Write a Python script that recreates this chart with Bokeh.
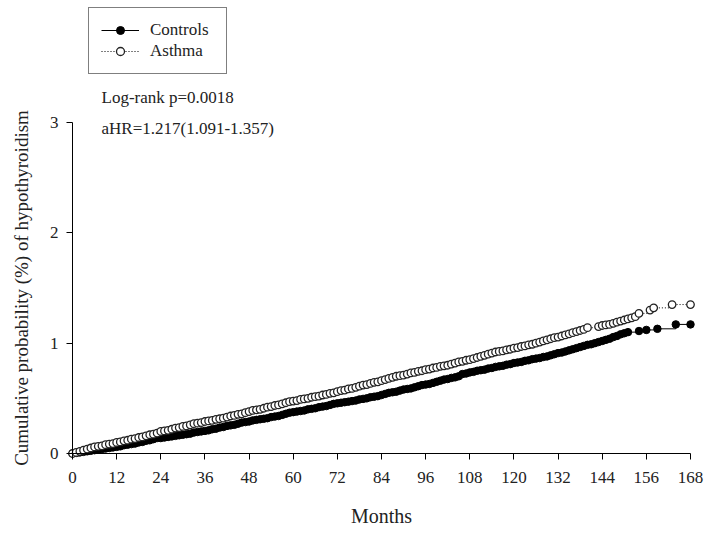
from bokeh.plotting import figure
from bokeh.models import (Range1d, FixedTicker, Legend, LegendItem, Label, ColumnDataSource)
from bokeh.embed import file_html
from bokeh.resources import INLINE

# ---- data ----
x_ticks = [0, 12, 24, 36, 48, 60, 72, 84, 96, 108, 120, 132, 144, 156, 168]
y_ticks = [0, 1, 2, 3]

asthma_months = list(range(0, 141)) + [143, 144, 145, 146, 147, 148, 149, 150, 151, 152, 153, 154,
                                       157, 158, 163, 168]
asthma_vals = [
    0.00, 0.01, 0.02, 0.03, 0.04, 0.05, 0.06, 0.065, 0.07, 0.08,
    0.085, 0.09, 0.10, 0.105, 0.115, 0.12, 0.13, 0.135, 0.145, 0.15,
    0.16, 0.17, 0.175, 0.185, 0.20, 0.205, 0.21, 0.22, 0.23, 0.235,
    0.245, 0.25, 0.26, 0.27, 0.275, 0.28, 0.29, 0.295, 0.30, 0.31,
    0.315, 0.32, 0.33, 0.34, 0.345, 0.355, 0.36, 0.37, 0.38, 0.39,
    0.395, 0.40, 0.41, 0.42, 0.425, 0.435, 0.44, 0.45, 0.46, 0.47,
    0.475, 0.48, 0.49, 0.495, 0.50, 0.51, 0.515, 0.52, 0.53, 0.535,
    0.545, 0.55, 0.56, 0.57, 0.575, 0.585, 0.59, 0.60, 0.61, 0.62,
    0.625, 0.635, 0.645, 0.65, 0.66, 0.67, 0.68, 0.69, 0.70, 0.705,
    0.71, 0.72, 0.73, 0.735, 0.745, 0.75, 0.76, 0.765, 0.775, 0.78,
    0.79, 0.795, 0.80, 0.81, 0.82, 0.83, 0.835, 0.845, 0.85, 0.86,
    0.87, 0.88, 0.89, 0.90, 0.91, 0.92, 0.925, 0.93, 0.94, 0.945,
    0.955, 0.96, 0.97, 0.975, 0.985, 0.99, 1.00, 1.01, 1.02, 1.03,
    1.04, 1.05, 1.055, 1.065, 1.075, 1.085, 1.095, 1.105, 1.115, 1.125, 1.14,
    1.15, 1.16, 1.165, 1.17, 1.18, 1.19, 1.20, 1.21, 1.22, 1.23, 1.24, 1.27,
    1.30, 1.32, 1.35, 1.35,
]

controls_months = list(range(0, 152)) + [154, 156, 159, 164, 168]
controls_vals = [
    0.00, 0.005, 0.01, 0.015, 0.02, 0.025, 0.03, 0.035, 0.04, 0.045,
    0.05, 0.055, 0.06, 0.065, 0.075, 0.08, 0.085, 0.09, 0.10, 0.105,
    0.115, 0.12, 0.13, 0.14, 0.14, 0.145, 0.15, 0.155, 0.16, 0.165,
    0.17, 0.175, 0.18, 0.19, 0.195, 0.20, 0.205, 0.21, 0.22, 0.225,
    0.235, 0.24, 0.25, 0.255, 0.26, 0.27, 0.28, 0.285, 0.29, 0.30,
    0.305, 0.31, 0.315, 0.32, 0.33, 0.335, 0.34, 0.35, 0.36, 0.37,
    0.375, 0.38, 0.385, 0.39, 0.40, 0.405, 0.41, 0.42, 0.425, 0.43,
    0.44, 0.45, 0.455, 0.46, 0.465, 0.47, 0.475, 0.48, 0.49, 0.495,
    0.50, 0.51, 0.515, 0.52, 0.53, 0.54, 0.55, 0.555, 0.56, 0.57,
    0.58, 0.585, 0.59, 0.60, 0.61, 0.62, 0.625, 0.63, 0.64, 0.65,
    0.66, 0.67, 0.675, 0.685, 0.69, 0.70, 0.72, 0.725, 0.735, 0.74,
    0.75, 0.755, 0.76, 0.77, 0.775, 0.785, 0.79, 0.795, 0.805, 0.81,
    0.82, 0.825, 0.83, 0.84, 0.845, 0.855, 0.86, 0.865, 0.875, 0.88,
    0.89, 0.90, 0.91, 0.915, 0.925, 0.935, 0.945, 0.955, 0.965, 0.975,
    0.985, 0.99, 1.00, 1.01, 1.02, 1.03, 1.04, 1.055, 1.065, 1.08,
    1.09, 1.10,
    1.11, 1.12, 1.13, 1.17, 1.17,
]

legend_labels = ["Controls", "Asthma"]
logrank_text = "Log-rank p=0.0018"
ahr_text = "aHR=1.217(1.091-1.357)"
x_title = "Months"
y_title = "Cumulative probability (%) of hypothyroidism"

FONT = "Liberation Serif"
W, H = 707, 533
# axes placement (pixels): x 0->72, 168->690 ; y 0->453, 3->122
px_per_month = (690 - 72) / 168.0
px_per_unit = (453 - 122) / 3.0

p = figure(width=W, height=H, output_backend="svg", toolbar_location=None,
           x_range=Range1d(-72 / px_per_month, 168 + (W - 690) / px_per_month),
           y_range=Range1d(-(H - 453) / px_per_unit, 453 / px_per_unit),
           min_border=0, min_border_left=0, min_border_right=0,
           min_border_top=0, min_border_bottom=0)
p.outline_line_color = None
p.xgrid.visible = False
p.ygrid.visible = False
p.background_fill_color = "white"
p.border_fill_color = "white"

for ax in (p.xaxis[0], p.yaxis[0]):
    ax.fixed_location = 0
    ax.axis_line_color = "black"
    ax.axis_line_width = 1
    ax.major_tick_line_color = "black"
    ax.major_tick_in = 0
    ax.major_tick_out = 6
    ax.minor_tick_line_color = None
    ax.major_label_text_font = FONT
    ax.major_label_text_font_size = "17px"
    ax.major_label_text_color = "#222222"
    ax.axis_label_text_font = FONT
    ax.axis_label_text_font_style = "normal"
    ax.axis_label_text_color = "#222222"

p.xaxis.bounds = (0, 168)
p.yaxis.bounds = (0, 3)
p.xaxis.ticker = FixedTicker(ticks=x_ticks)
p.yaxis.ticker = FixedTicker(ticks=y_ticks)
p.xaxis.major_label_standoff = 12
p.yaxis.major_label_standoff = 8
p.xaxis.axis_label = x_title
p.yaxis.axis_label = y_title
p.xaxis.axis_label_text_font_size = "20px"
p.yaxis.axis_label_text_font_size = "19px"
p.xaxis.axis_label_standoff = 19
p.yaxis.axis_label_standoff = 15

src_c = ColumnDataSource(dict(x=controls_months, y=controls_vals))
src_a = ColumnDataSource(dict(x=asthma_months, y=asthma_vals))

lc = p.step("x", "y", source=src_c, mode="after", line_color="black", line_width=1)
sc = p.scatter("x", "y", source=src_c, size=7.5, marker="circle",
               fill_color="black", line_color="black", line_width=1)
la = p.step("x", "y", source=src_a, mode="after", line_color="black", line_width=1,
            line_dash="1 2")
sa = p.scatter("x", "y", source=src_a, size=7.5, marker="circle",
               fill_color="white", line_color="#222222", line_width=1.3)

legend = Legend(items=[LegendItem(label=legend_labels[0], renderers=[lc, sc]),
                       LegendItem(label=legend_labels[1], renderers=[la, sa])],
                location=(88, H - 74))
legend.label_text_font = FONT
legend.label_text_font_size = "17px"
legend.label_text_color = "#222222"
legend.glyph_width = 38
legend.glyph_height = 20
legend.label_height = 20
legend.label_width = 64
legend.label_standoff = 11
legend.spacing = 1
legend.padding = 12
legend.margin = 0
legend.border_line_color = "black"
legend.border_line_width = 1
legend.background_fill_color = "white"
legend.background_fill_alpha = 1
p.add_layout(legend)

p.add_layout(Label(x=(101 - 72) / px_per_month, y=(453 - 97) / px_per_unit, text=logrank_text,
                   text_font=FONT, text_font_size="17px", text_baseline="middle",
                   text_color="#222222"))
p.add_layout(Label(x=(101 - 72) / px_per_month, y=(453 - 128) / px_per_unit, text=ahr_text,
                   text_font=FONT, text_font_size="17px", text_baseline="middle",
                   text_color="#222222"))

open("out.html", "w").write(file_html(p, INLINE))
